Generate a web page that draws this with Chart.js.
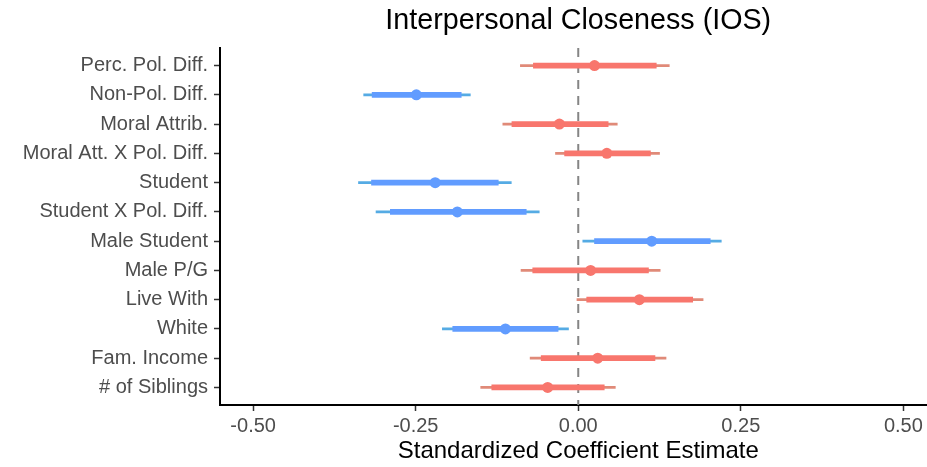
<!DOCTYPE html>
<html>
<head>
<meta charset="utf-8">
<script src="https://cdn.jsdelivr.net/npm/chart.js@4.4.1/dist/chart.umd.min.js"></script>
<style>
  html, body { margin: 0; padding: 0; background: #ffffff; overflow: hidden; }
  #wrap { width: 942px; height: 467px; position: relative; }
</style>
</head>
<body>
<div id="wrap"><canvas id="c"></canvas></div>
<script>
// ---- data ----
const labels = [
  "Perc. Pol. Diff.", "Non-Pol. Diff.", "Moral Attrib.", "Moral Att. X Pol. Diff.",
  "Student", "Student X Pol. Diff.", "Male Student", "Male P/G",
  "Live With", "White", "Fam. Income", "# of Siblings"
];
const estimate = [0.025, -0.249, -0.029, 0.044, -0.220, -0.186, 0.113, 0.019, 0.094, -0.112, 0.030, -0.047];
const innerLo  = [-0.069, -0.317, -0.102, -0.021, -0.318, -0.289, 0.025, -0.070, 0.013, -0.193, -0.057, -0.133];
const innerHi  = [0.120, -0.180, 0.046, 0.111, -0.123, -0.080, 0.203, 0.108, 0.176, -0.031, 0.118, 0.040];
const outerLo  = [-0.089, -0.330, -0.116, -0.035, -0.338, -0.311, 0.007, -0.088, -0.002, -0.209, -0.074, -0.150];
const outerHi  = [0.140, -0.166, 0.060, 0.125, -0.103, -0.060, 0.220, 0.126, 0.192, -0.015, 0.135, 0.057];
const significant = [0, 1, 0, 0, 1, 1, 1, 0, 0, 1, 0, 0];
const xTicks = [-0.50, -0.25, 0.00, 0.25, 0.50];
const refLineX = 0;

// ---- styles ----
const RED = "#F8766D", BLUE = "#619CFF";
const RED_THIN = "#E08A78", BLUE_THIN = "#55ABE4";
const FONT = "'Liberation Sans', Arial, Helvetica, sans-serif";

const rowPos = labels.map((_, i) => i + 1);
const col = (sig, a, b) => sig.map(s => s ? a : b);

new Chart(document.getElementById("c"), {
  type: "bar",
  data: {
    datasets: [
      {
        type: "line",
        data: [{ x: refLineX, y: 0.4 }, { x: refLineX, y: 12.6 }],
        borderColor: "#858585",
        borderWidth: 2,
        borderDash: [9, 7],
        pointRadius: 0,
        order: 5
      },
      {
        indexAxis: "y",
        data: rowPos.map((p, i) => ({ y: p, x: [outerLo[i], outerHi[i]] })),
        backgroundColor: col(significant, BLUE_THIN, RED_THIN),
        barThickness: 2,
        grouped: false,
        borderWidth: 0,
        borderSkipped: false,
        order: 3
      },
      {
        indexAxis: "y",
        data: rowPos.map((p, i) => ({ y: p, x: [innerLo[i], innerHi[i]] })),
        backgroundColor: col(significant, BLUE, RED),
        barThickness: 5,
        grouped: false,
        borderWidth: 0,
        borderSkipped: false,
        order: 2
      },
      {
        type: "scatter",
        data: rowPos.map((p, i) => ({ x: estimate[i], y: p })),
        backgroundColor: col(significant, BLUE, RED),
        pointBackgroundColor: col(significant, BLUE, RED),
        pointBorderWidth: 0,
        pointRadius: 5.5,
        order: 1
      }
    ]
  },
  options: {
    indexAxis: "y",
    responsive: true,
    maintainAspectRatio: false,
    animation: false,
    events: [],
    layout: { padding: 0 },
    plugins: {
      legend: { display: false },
      tooltip: { enabled: false },
      title: {
        display: true,
        fullSize: false,
        text: "Interpersonal Closeness (IOS)",
        color: "#000000",
        font: { family: FONT, size: 28.7, weight: "normal", lineHeight: 1.2 },
        padding: { top: 4, bottom: 9.6 }
      }
    },
    scales: {
      x: {
        type: "linear",
        min: -0.551,
        max: 0.551,
        afterBuildTicks: (axis) => { axis.ticks = xTicks.map(v => ({ value: v })); },
        afterFit: (axis) => { axis.height = 62; },
        ticks: {
          color: "#4D4D4D",
          font: { family: FONT, size: 20 },
          padding: 3,
          maxRotation: 0,
          callback: (v) => v.toFixed(2)
        },
        grid: {
          display: true,
          drawOnChartArea: false,
          drawTicks: true,
          tickLength: 6,
          tickColor: "#333333",
          tickWidth: 1.5
        },
        border: { display: true, color: "#000000", width: 2 },
        title: {
          display: true,
          text: "Standardized Coefficient Estimate",
          color: "#000000",
          font: { family: FONT, size: 24 },
          padding: { top: 0, bottom: 1 }
        }
      },
      y: {
        type: "linear",
        reverse: true,
        offset: false,
        min: 0.4,
        max: 12.6,
        afterBuildTicks: (axis) => { axis.ticks = rowPos.map(v => ({ value: v })); },
        afterFit: (axis) => { axis.width = 220; },
        ticks: {
          color: "#4D4D4D",
          font: { family: FONT, size: 20 },
          padding: 6,
          autoSkip: false,
          callback: (v) => labels[Math.round(v) - 1] || ""
        },
        grid: {
          display: true,
          offset: false,
          drawOnChartArea: false,
          drawTicks: true,
          tickLength: 6,
          tickColor: "#333333",
          tickWidth: 1.5
        },
        border: { display: true, color: "#000000", width: 2 }
      }
    }
  }
});
</script>
</body>
</html>
